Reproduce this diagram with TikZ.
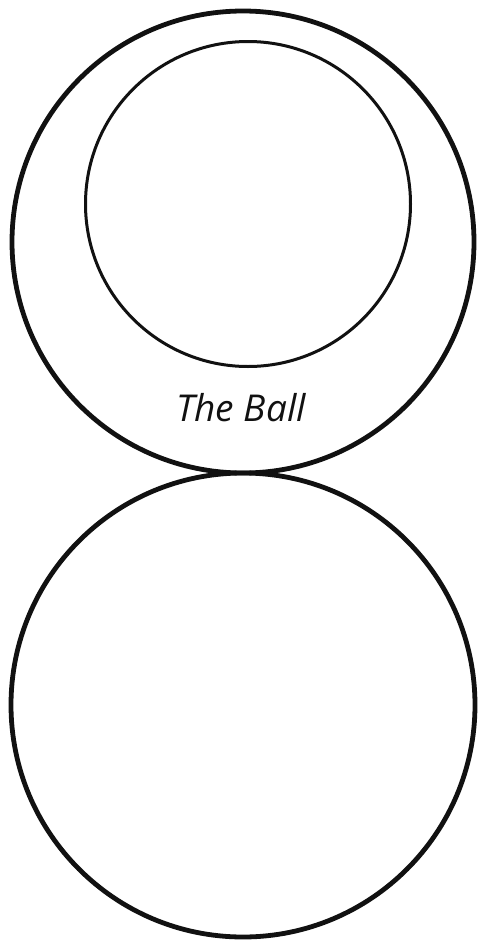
\documentclass[tikz,border=0pt]{standalone}
\usepackage{fontspec}
\setmainfont{Open Sans}
\usepackage{xcolor}
\usetikzlibrary{positioning}
\definecolor{ink}{HTML}{111111}

\begin{document}
\begin{tikzpicture}[x=1pt,y=-1pt,
  rim/.style={draw=ink,circle,line width=4.8pt,inner sep=0pt,outer sep=0pt,minimum size=#1},
  core/.style={draw=ink,circle,line width=3pt,inner sep=0pt,outer sep=0pt,minimum size=#1}]
  \useasboundingbox (0,0) rectangle (483,945);
  \node[rim=462pt] (ball) at (243,242) {};
  \node[core=325pt] (inner) at (248,204) {};
  \node[rim=464pt,below=0pt of ball.south] (lower) {};
  \node[font=\fontsize{37}{40}\selectfont\itshape,text=ink] (lbl) at (241,408) {The Ball};
\end{tikzpicture}
\end{document}
